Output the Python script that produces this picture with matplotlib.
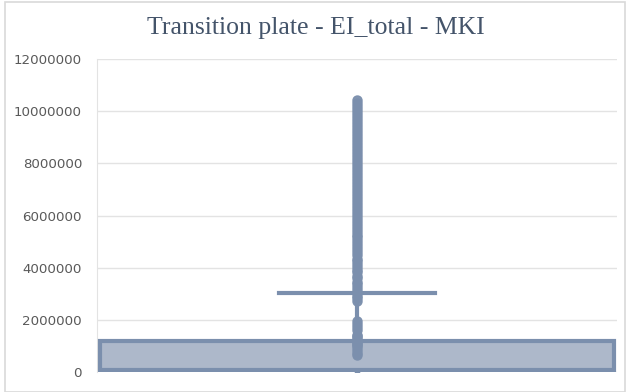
import matplotlib.pyplot as plt
from matplotlib.patches import Rectangle

title = 'Transition plate - EI_total - MKI'

# box statistics (values in the data units)
q1 = 20000
median = 60000
q3 = 1190000
whisker_low = 0
whisker_high = 3040000
mean = 10000

# outliers, in millions
outliers_m = [0.65, 0.74, 0.86, 0.95, 1.02, 1.08, 1.15, 1.22, 1.30, 1.37, 1.43,
              1.62, 1.74, 1.86, 1.97, 2.73, 2.82, 2.93, 3.05, 3.14, 3.26, 3.38,
              3.47, 3.59, 3.70, 3.82, 3.91, 4.03, 4.15, 4.26, 4.35, 4.48, 4.59,
              4.70, 4.82, 4.94, 5.05, 5.16, 5.27, 5.39, 5.50, 5.62, 5.73, 5.85,
              5.96, 6.08, 6.19, 6.31, 6.42, 6.53, 6.65, 6.77, 6.88, 7.00, 7.11,
              7.22, 7.34, 7.46, 7.57, 7.68, 7.80, 7.91, 8.03, 8.14, 8.26, 8.37,
              8.49, 8.60, 8.72, 8.83, 8.95, 9.06, 9.18, 9.29, 9.41, 9.52, 9.64,
              9.75, 9.87, 9.98, 10.10, 10.22, 10.33, 10.45]
outliers = [v * 1e6 for v in outliers_m]

yticks = [0, 2000000, 4000000, 6000000, 8000000, 10000000, 12000000]

edge = '#7b8fad'
fill = '#adb8ca'

fig = plt.figure(figsize=(6.28, 3.92), dpi=100)
fig.patches.append(Rectangle((0.008, 0.0), 0.988, 0.995, transform=fig.transFigure,
                             fill=False, edgecolor='#d9d9d9', linewidth=1.2))
ax = fig.add_axes([0.155, 0.051, 0.827, 0.798])

stats = [{'med': median, 'q1': q1, 'q3': q3, 'whislo': whisker_low,
          'whishi': whisker_high, 'mean': mean, 'fliers': outliers}]
ax.bxp(stats, positions=[1], widths=0.99, capwidths=0.3, showmeans=True, patch_artist=True,
       boxprops=dict(facecolor=fill, edgecolor=edge, linewidth=3),
       medianprops=dict(color=edge, linewidth=3),
       whiskerprops=dict(color=edge, linewidth=3),
       capprops=dict(color=edge, linewidth=3),
       meanprops=dict(marker='o', markersize=3, markerfacecolor=edge, markeredgecolor=edge),
       flierprops=dict(marker='o', markersize=6.5, markerfacecolor=edge,
                       markeredgecolor=edge, alpha=0.95),
       zorder=3)

ax.set_xlim(0.5, 1.5)
ax.set_ylim(0, 12000000)
ax.set_yticks(yticks)
ax.set_yticklabels([str(v) for v in yticks], fontsize=9.6, color='#595959', family='DejaVu Sans')
ax.set_xticks([])
ax.grid(axis='y', color='#e3e3e3', linewidth=1)
ax.set_axisbelow(True)
for side in ['top', 'right', 'bottom']:
    ax.spines[side].set_visible(False)
ax.spines['left'].set_color('#e3e3e3')
ax.tick_params(axis='y', length=0, pad=11)

fig.text(0.503, 0.929, title, ha='center', va='center', fontsize=18.5,
         family='Liberation Serif', color='#44546a')

plt.savefig('out.png', dpi=100)
